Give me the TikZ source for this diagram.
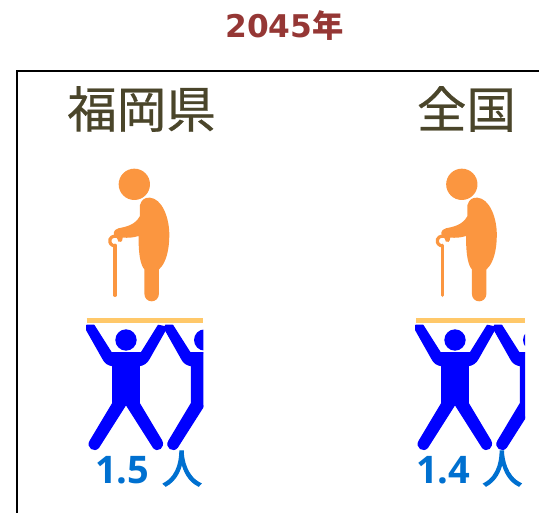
\documentclass[tikz,border=0pt]{standalone}
\usepackage{fontspec}
\setmainfont{Noto Sans}
\newfontfamily\cjkf{Noto Sans CJK JP}
\newfontfamily\cjkh[FakeBold=0.5]{Noto Sans CJK JP}
\newfontfamily\cjkr[FakeBold=3]{Noto Sans CJK JP}
\newfontfamily\titlef{DejaVu Sans}
\newfontfamily\numf{Open Sans}
\definecolor{titlered}{HTML}{953735}
\definecolor{headtxt}{HTML}{4A452A}
\definecolor{elder}{HTML}{FB9640}
\definecolor{barcol}{HTML}{FFC869}
\definecolor{labblue}{HTML}{0070D0}
\definecolor{figblue}{HTML}{0000FF}
\tikzset{
  x=1pt,y=-1pt,
  frameline/.style={draw=black,line width=2pt},
  headlabel/.style={text=headtxt,font=\cjkh\fontsize{49.5}{50}\selectfont,inner sep=0pt},
  numlabel/.style={text=labblue,inner sep=0pt,anchor=base west,font=\numf\bfseries\fontsize{38}{38}\selectfont},
  renlabel/.style={text=labblue,inner sep=0pt,font=\cjkr\fontsize{40}{40}\selectfont},
  barline/.style={draw=barcol,line width=4.6pt},
  pics/oldperson/.style={code={
    \begin{scope}[shift={(80,160)},x=0.3333pt,y=-0.3333pt]
    \fill[elder] (163,73) circle[radius=47];
    \fill[elder] (180,135) .. controls (185,118) and (195,112) .. (210,113)
      .. controls (245,116) and (268,170) .. (268,225)
      .. controls (268,270) and (258,310) .. (237,328)
      -- (237,400) .. controls (237,432) and (193,432) .. (193,400)
      -- (193,328) .. controls (182,315) and (175,285) .. (176,228)
      .. controls (160,233) and (145,234) .. (128,233)
      .. controls (128,245) and (120,250) .. (115,245)
      .. controls (110,240) and (115,233) .. (108,230)
      .. controls (98,225) and (98,210) .. (115,205)
      .. controls (140,200) and (165,195) .. (180,168) -- cycle;
    \draw[elder,line width=3.2pt] (118,233) .. controls (110,226) and (95,226) .. (90,238)
      .. controls (87,250) and (95,257) .. (105,258);
    \draw[elder,line width=3.4pt,line cap=round] (105,256) -- (105,406);
    \end{scope}
  }},
  pics/lifter/.style={code={
    \begin{scope}[shift={(80,310)},x=0.3333pt,y=-0.3333pt]
    \fill[figblue] (138,90) circle[radius=32];
    \filldraw[fill=figblue,draw=figblue,line width=1.2pt,line join=round] (20,60) -- (20,46) -- (42,46) -- (94,128)
      -- (184,128) -- (235,46) -- (254,50) -- (255,62) -- (208,145)
      .. controls (200,160) and (190,165) .. (178,167)
      -- (178,280) -- (245,392) .. controls (255,412) and (232,428) .. (220,412)
      -- (138,283) -- (56,412) .. controls (44,428) and (18,412) .. (31,392)
      -- (98,280) -- (98,167) .. controls (85,165) and (75,160) .. (68,145) -- cycle;
    \end{scope}
  }}
}
\begin{document}
\begin{tikzpicture}
\useasboundingbox (0,0) rectangle (539,513);
\path[frameline] (16.5,513) -- (16.5,71.5) -- (539,71.5);
\node[text=titlered,font=\titlef\bfseries\fontsize{31.3}{31.3}\selectfont,inner sep=0pt] (title) at (284.5,25.5) {2045\cjkf\bfseries 年};
\node[headlabel] (fukuoka) at (141.5,109) {福岡県};
\node[headlabel] (zenkoku) at (466.5,109) {全国};
\pic at (0,0) {oldperson};
\pic at (327.5,0) {oldperson};
\begin{scope}
  \clip (86,322) rectangle (203.3,452);
  \pic at (0,0) {lifter};
  \pic at (78.7,0) {lifter};
\end{scope}
\begin{scope}
  \clip (415,322) rectangle (525,452);
  \pic at (329,0) {lifter};
  \pic at (407.7,0) {lifter};
\end{scope}
\path[barline] (86.5,320.3) -- (203.3,320.3);
\path[barline] (416,320.3) -- (525,320.3);
\node[numlabel] (numA) at (95,483.5) {1.5};
\node[renlabel] (renA) at (182,468.5) {人};
\node[numlabel] (numB) at (416,483.5) {1.4};
\node[renlabel] (renB) at (502.3,468.5) {人};
\end{tikzpicture}
\end{document}
